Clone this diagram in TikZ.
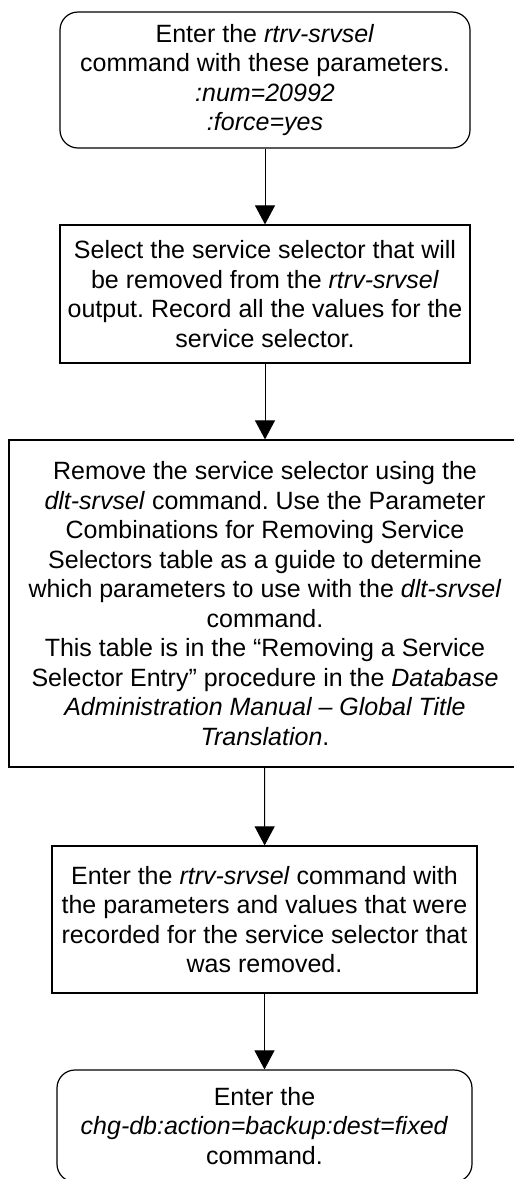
\documentclass[tikz,border=0pt]{standalone}
\usepackage{fontspec}
\setmainfont{Liberation Sans}
\usetikzlibrary{arrows.meta}
\frenchspacing
\begin{document}
\begin{tikzpicture}[x=1pt,y=-1pt,
  txt/.style={font=\fontsize{25}{29.5}\selectfont, align=center, inner sep=0pt},
  stepbox/.style={draw, line width=1.2pt, txt},
  termbox/.style={draw, line width=1.2pt, rounded corners=18pt, txt},
  arr/.style={line width=1pt, -{Triangle[length=19pt,width=20pt]}}]
\useasboundingbox (0,0) rectangle (514,1179);
\clip (0,0) rectangle (514,1179);
\node[termbox, minimum width=410pt, minimum height=136pt] (b1) at (265,80)
  {Enter the \textit{rtrv-srvsel}\\command with these parameters.\\\textit{:num=20992}\\\textit{:force=yes}};
\node[stepbox, minimum width=410pt, minimum height=138pt] (b2) at (265,294)
  {Select the service selector that will\\be removed from the \textit{rtrv-srvsel}\\output. Record all the values for the\\service selector.};
\node[stepbox, minimum width=512pt, minimum height=327pt] (b3) at (265,603.5)
  {Remove the service selector using the\\\textit{dlt-srvsel} command. Use the Parameter\\Combinations for Removing Service\\Selectors table as a guide to determine\\which parameters to use with the \textit{dlt-srvsel}\\command.\\This table is in the \textquotedblleft Removing a Service\\Selector Entry\textquotedblright{} procedure in the \textit{Database}\\\textit{Administration Manual -- Global Title}\\\textit{Translation}.};
\node[stepbox, minimum width=425pt, minimum height=147pt] (b4) at (264.5,919.5)
  {Enter the \textit{rtrv-srvsel} command with\\the parameters and values that were\\recorded for the service selector that\\was removed.};
\node[termbox, minimum width=415pt, minimum height=112pt] (b5) at (264.5,1126)
  {Enter the\\\textit{chg-db:action=backup:dest=fixed}\\command.};
\draw[arr] (b1) -- (b2);
\draw[arr] (b2) -- (b3);
\draw[arr] (b3) -- (b4);
\draw[arr] (b4) -- (b5);
\end{tikzpicture}
\end{document}
